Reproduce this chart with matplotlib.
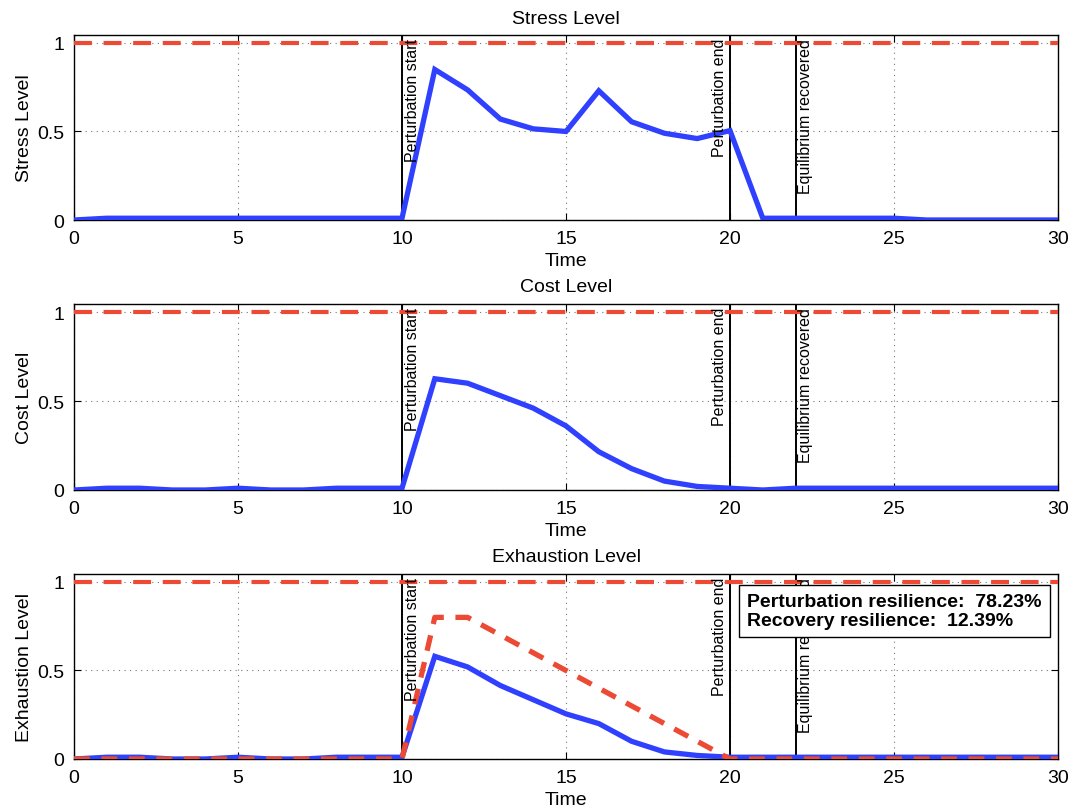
import numpy as np
import matplotlib
matplotlib.use("Agg")
import matplotlib.pyplot as plt

plt.rcParams['font.family'] = ['Liberation Sans', 'DejaVu Sans']

# time axis and series
time = list(range(31))
stress = [0.0, 0.01, 0.01, 0.01, 0.01, 0.01, 0.01, 0.01, 0.01, 0.01, 0.01,
          0.85, 0.735, 0.57, 0.515, 0.50, 0.73, 0.555, 0.49, 0.46, 0.505,
          0.01, 0.01, 0.01, 0.01, 0.01, 0.0, 0.0, 0.0, 0.0, 0.0]
cost = [0.0, 0.01, 0.01, 0.0, 0.0, 0.01, 0.0, 0.0, 0.01, 0.01, 0.01,
        0.625, 0.60, 0.53, 0.46, 0.36, 0.215, 0.12, 0.05, 0.02, 0.01,
        0.0, 0.01, 0.01, 0.01, 0.01, 0.01, 0.01, 0.01, 0.01, 0.01]
exhaustion = [0.0, 0.01, 0.01, 0.0, 0.0, 0.01, 0.0, 0.0, 0.01, 0.01, 0.01,
              0.58, 0.52, 0.415, 0.335, 0.255, 0.20, 0.10, 0.04, 0.02, 0.01,
              0.01, 0.01, 0.01, 0.01, 0.01, 0.01, 0.01, 0.01, 0.01, 0.01]
exhaustion_max = [0.0] * 11 + [0.8, 0.8, 0.7, 0.6, 0.5, 0.4, 0.3, 0.2, 0.1, 0.0] + [0.0] * 10

threshold = 1.0
events = [10, 20, 22]
event_labels = ['Perturbation start', 'Perturbation end', 'Equilibrium recovered']
event_side = ['right', 'left', 'right']

titles = ['Stress Level', 'Cost Level', 'Exhaustion Level']
ylabels = ['Stress Level', 'Cost Level', 'Exhaustion Level']
series = [stress, cost, exhaustion]
resilience_text = 'Perturbation resilience:  78.23%\nRecovery resilience:  12.39%'

BLUE = '#3040ff'
RED = '#ec4a35'

fig = plt.figure(figsize=(10.75, 8.12), dpi=100)
W, H = 1075.0, 812.0
panels = [(36, 221), (305, 491), (575, 760)]

for i, (top, bot) in enumerate(panels):
    ax = fig.add_axes([74 / W, 1 - bot / H, (1058 - 74) / W, (bot - top) / H])
    ax.set_xlim(0, 30)
    ax.set_ylim(0, 1.045)
    ax.set_xticks([0, 5, 10, 15, 20, 25, 30])
    ax.set_yticks([0, 0.5, 1])
    ax.set_yticklabels(['0', '0.5', '1'])
    ax.tick_params(direction='in', top=True, right=True, length=5, labelsize=14, pad=7)
    ax.grid(True, linestyle=(0, (1, 4)), color='#777777', linewidth=0.8)
    for sp in ax.spines.values():
        sp.set_linewidth(1.0)

    for ev, lab, side in zip(events, event_labels, event_side):
        ax.axvline(ev, color='black', linewidth=1.4, zorder=3)
        dx = 0.08 if side == 'right' else -0.08
        ax.text(ev + dx, 1.03, lab, rotation=90, va='top',
                ha='left' if side == 'right' else 'right',
                fontsize=11.5, zorder=5)

    ax.plot(time, series[i], color=BLUE, linewidth=3.8, solid_joinstyle='miter', zorder=4)
    ax.plot([0, 30], [threshold, threshold], color=RED, linewidth=3,
            dashes=(4.3, 2.8), zorder=4)
    if i == 2:
        ax.plot(time, exhaustion_max, color=RED, linewidth=3.8,
                dashes=(3.0, 2.2), zorder=4)
        ax.text(20.52, 0.935, resilience_text, fontsize=14, fontweight='bold',
                va='top', ha='left', linespacing=1.1, zorder=6, clip_on=False,
                bbox=dict(boxstyle='square,pad=0.42', facecolor='white',
                          edgecolor='black', linewidth=1.0))

    ax.set_title(titles[i], fontsize=14, pad=9)
    ax.set_xlabel('Time', fontsize=14, labelpad=4)
    ax.set_ylabel(ylabels[i], fontsize=14, labelpad=3)

fig.savefig('out.png', dpi=100)
